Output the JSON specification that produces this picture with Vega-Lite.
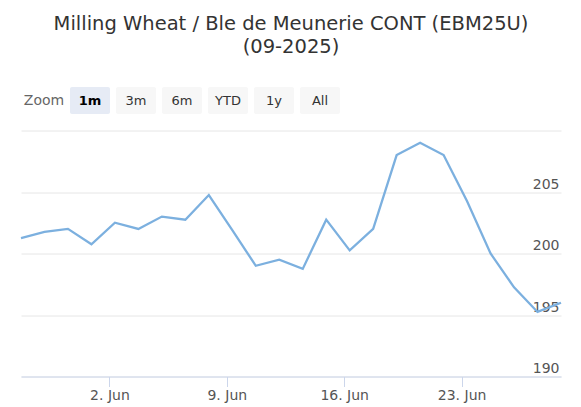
{
  "$schema": "https://vega.github.io/schema/vega-lite/v6.json",
  "padding": {"left": 16, "top": 14, "right": 25, "bottom": 5},
  "background": "#ffffff",
  "title": {
    "text": ["Milling Wheat / Ble de Meunerie CONT (EBM25U)", "(09-2025)"],
    "anchor": "middle",
    "font": "DejaVu Sans",
    "fontSize": 19.5,
    "fontWeight": "normal",
    "color": "#333333",
    "lineHeight": 23,
    "offset": 29.5
  },
  "config": {
    "view": {"stroke": null},
    "font": "DejaVu Sans"
  },
  "spacing": 16.5,
  "vconcat": [
    {
      "width": 322,
      "height": 27,
      "data": {
        "values": [
          {"label": "Zoom", "kind": "label"},
          {"label": "1m", "kind": "selected"},
          {"label": "3m", "kind": "button"},
          {"label": "6m", "kind": "button"},
          {"label": "YTD", "kind": "button"},
          {"label": "1y", "kind": "button"},
          {"label": "All", "kind": "button"}
        ]
      },
      "encoding": {
        "x": {
          "field": "label",
          "type": "nominal",
          "scale": {
            "type": "band",
            "domain": ["Zoom", "1m", "3m", "6m", "YTD", "1y", "All"],
            "paddingInner": 0.13,
            "paddingOuter": 0.065
          },
          "axis": null
        }
      },
      "layer": [
        {
          "transform": [{"filter": "datum.kind !== 'label'"}],
          "mark": {"type": "rect", "cornerRadius": 2},
          "encoding": {
            "fill": {
              "condition": {"test": "datum.kind === 'selected'", "value": "#e6ebf5"},
              "value": "#f7f7f7"
            }
          }
        },
        {
          "transform": [{"filter": "datum.kind === 'label'"}],
          "mark": {"type": "text", "baseline": "middle", "align": "center", "fontSize": 14, "color": "#666666"},
          "encoding": {"text": {"field": "label"}}
        },
        {
          "transform": [{"filter": "datum.kind === 'button'"}],
          "mark": {"type": "text", "baseline": "middle", "align": "center", "fontSize": 13, "color": "#333333"},
          "encoding": {"text": {"field": "label"}}
        },
        {
          "transform": [{"filter": "datum.kind === 'selected'"}],
          "mark": {"type": "text", "baseline": "middle", "align": "center", "fontSize": 13, "fontWeight": "bold", "color": "#000000"},
          "encoding": {"text": {"field": "label"}}
        }
      ]
    },
    {
      "width": 540,
      "height": 246,
      "data": {
        "values": [
          {"date": "2025-05-27", "price": 201.25},
          {"date": "2025-05-28", "price": 201.75},
          {"date": "2025-05-29", "price": 202.0},
          {"date": "2025-05-30", "price": 200.75},
          {"date": "2025-06-02", "price": 202.5},
          {"date": "2025-06-03", "price": 202.0},
          {"date": "2025-06-04", "price": 203.0},
          {"date": "2025-06-05", "price": 202.75},
          {"date": "2025-06-06", "price": 204.75},
          {"date": "2025-06-09", "price": 201.9},
          {"date": "2025-06-10", "price": 199.0},
          {"date": "2025-06-11", "price": 199.5},
          {"date": "2025-06-12", "price": 198.75},
          {"date": "2025-06-13", "price": 202.75},
          {"date": "2025-06-16", "price": 200.25},
          {"date": "2025-06-17", "price": 202.0},
          {"date": "2025-06-18", "price": 208.0},
          {"date": "2025-06-19", "price": 209.0},
          {"date": "2025-06-20", "price": 208.0},
          {"date": "2025-06-23", "price": 204.25},
          {"date": "2025-06-24", "price": 200.0},
          {"date": "2025-06-25", "price": 197.25},
          {"date": "2025-06-26", "price": 195.25},
          {"date": "2025-06-27", "price": 196.0}
        ]
      },
      "mark": {"type": "line", "color": "#7cb0df", "strokeWidth": 2.3},
      "encoding": {
        "x": {
          "field": "date",
          "type": "ordinal",
          "sort": null,
          "scale": {"type": "point", "padding": 0},
          "axis": {
            "title": null,
            "values": ["2025-06-02", "2025-06-09", "2025-06-16", "2025-06-23"],
            "labelExpr": "utcFormat(toDate(datum.value), '%-d. %b')",
            "labelAngle": 0,
            "labelFontSize": 14,
            "labelColor": "#555555",
            "labelPadding": 2,
            "tickOffset": -5.5,
            "tickSize": 10,
            "tickColor": "#ccd6eb",
            "domainColor": "#ccd6eb",
            "grid": false
          }
        },
        "y": {
          "field": "price",
          "type": "quantitative",
          "scale": {"domain": [190, 210], "nice": false, "zero": false},
          "axis": {
            "orient": "right",
            "title": null,
            "values": [190, 195, 200, 205, 210],
            "labelExpr": "datum.value == 210 ? '' : datum.label",
            "labelAlign": "right",
            "labelBaseline": "alphabetic",
            "labelPadding": -2,
            "labelOffset": -4,
            "labelFontSize": 14,
            "labelColor": "#555555",
            "ticks": false,
            "domain": false,
            "grid": true,
            "gridColor": "#e6e6e6",
            "gridWidth": 1
          }
        }
      }
    }
  ]
}
